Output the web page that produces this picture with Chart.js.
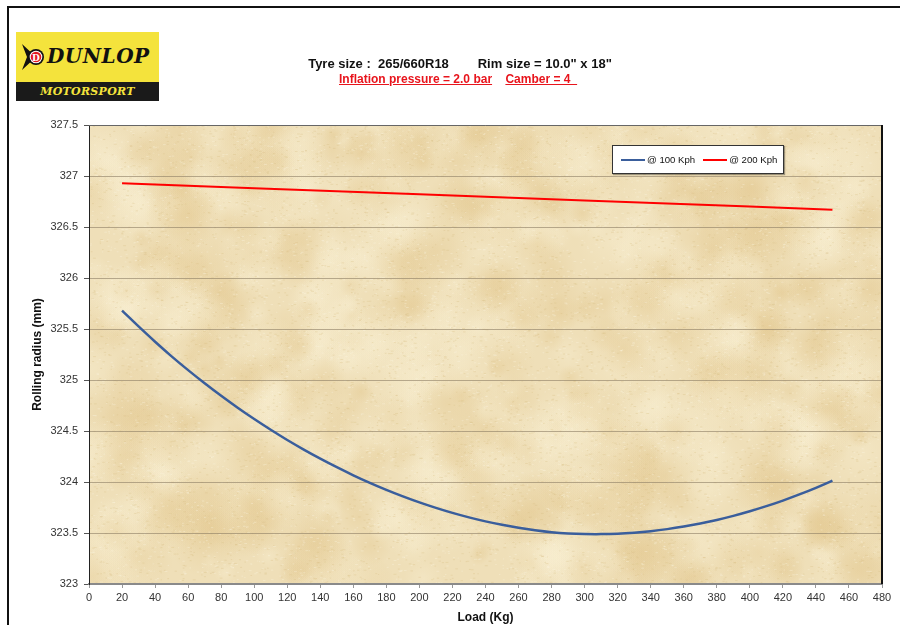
<!DOCTYPE html>
<html>
<head>
<meta charset="utf-8">
<script src="https://cdn.jsdelivr.net/npm/chart.js@4.4.0/dist/chart.umd.min.js"></script>
<style>
  body { margin: 0; background: #fff; font-family: "Liberation Sans", Arial, sans-serif; }
  #wrap { position: relative; width: 900px; height: 625px; overflow: hidden; }
  #frame { position: absolute; left: 7px; top: 6px; width: 900px; height: 700px; border-left: 2px solid #111; border-top: 2px solid #111; }
  #grafico { position: absolute; left: 0; top: 0; }
  #logo { position: absolute; left: 16px; top: 32px; width: 143px; height: 69px; background: #f4e33c; }
  #logo .band { position: absolute; left: 0; bottom: 0; width: 143px; height: 19px; background: #1a1a1a;
    color: #f4e33c; font: italic bold 11px "DejaVu Serif", serif; text-align: center; line-height: 19px; letter-spacing: 0.3px; }
  #logo .marca { position: absolute; left: 31px; top: 12px; font: italic bold 20px "DejaVu Serif", serif; color: #111; letter-spacing: 0.5px; }
  #logo svg { position: absolute; left: 3px; top: 11px; }
  #titulo { position: absolute; left: 0; top: 56px; width: 920px; text-align: center; font-weight: bold; font-size: 13px; color: #111; white-space: pre; }
  #subtitulo { position: absolute; left: 339px; top: 72px; font-weight: bold; font-size: 12px; color: #e8141c; white-space: pre; }
  #subtitulo span { text-decoration: underline; }
  #leyenda { position: absolute; left: 612px; top: 145px; width: 170px; height: 27px; background: #fff; border: 1px solid #333;
    box-shadow: 1px 1px 1px rgba(0,0,0,0.35); font-size: 9.6px; color: #111; display: flex; align-items: center; }
  #leyenda .item { display: flex; align-items: center; margin-left: 8px; }
  #leyenda .linea { width: 24px; height: 2px; margin-right: 2px; }
</style>
</head>
<body>
<div id="wrap">
  <div id="frame"></div>
  <canvas id="grafico" width="900" height="625"></canvas>
  <div id="logo">
    <svg width="28" height="28" viewBox="0 0 28 28">
      <path d="M3 1 L17 14 L3 27 L8 14 Z" fill="#111"/>
      <circle cx="17" cy="14" r="8" fill="#111"/>
      <circle cx="17" cy="14" r="6.3" fill="#fff"/>
      <circle cx="17" cy="14" r="5.3" fill="#e21b23"/>
      <text x="17" y="17.5" font-size="9" font-weight="bold" fill="#fff" text-anchor="middle" font-family="DejaVu Serif">D</text>
    </svg>
    <div class="marca">DUNLOP</div>
    <div class="band">MOTORSPORT</div>
  </div>
  <div id="titulo">Tyre size :  265/660R18        Rim size = 10.0" x 18"</div>
  <div id="subtitulo"><span>Inflation pressure = 2.0 bar</span>    <span>Camber = 4  </span></div>
  <div id="leyenda"></div>
</div>
<script>
// Carga (Kg) y radio de rodadura (mm)
const cargas100 = [20, 30, 40, 50, 60, 70, 80, 90, 100, 110, 120, 130, 140, 150, 160, 170, 180, 190, 200, 210,
  220, 230, 240, 250, 260, 270, 280, 290, 300, 310, 320, 330, 340, 350, 360, 370, 380, 390, 400, 410, 420, 430, 440, 450];
const radio100 = [325.680, 325.525, 325.375, 325.232, 325.097, 324.968, 324.845, 324.728, 324.617, 324.512,
  324.412, 324.318, 324.229, 324.145, 324.066, 323.992, 323.923, 323.859, 323.800, 323.746, 323.697, 323.653,
  323.614, 323.580, 323.551, 323.527, 323.508, 323.496, 323.490, 323.489, 323.493, 323.503, 323.518, 323.538,
  323.563, 323.593, 323.628, 323.668, 323.713, 323.763, 323.818, 323.878, 323.943, 324.013];
const cargas200 = [20, 100, 200, 300, 400, 450];
const radio200 = [326.93, 326.88, 326.82, 326.76, 326.70, 326.67];
const etiquetas = ['@ 100 Kph', '@ 200 Kph'];
const colores = ['#3a5e9c', '#ff0000'];

function puntos(xs, ys) {
  return xs.map((x, i) => ({ x: x, y: ys[i] }));
}

// textura tipo pergamino para el fondo del area de trazado
let textura = null;
function crearTextura(w, h) {
  const c = document.createElement('canvas');
  c.width = w; c.height = h;
  const g = c.getContext('2d');
  g.fillStyle = '#efdfb8';
  g.fillRect(0, 0, w, h);
  let s = 12345;
  const rnd = () => { s = (s * 16807) % 2147483647; return s / 2147483647; };
  for (let i = 0; i < 700; i++) {
    const x = rnd() * w, y = rnd() * h, r = 10 + rnd() * 30;
    const col = rnd() < 0.5 ? '226,198,140' : '249,240,212';
    const grad = g.createRadialGradient(x, y, 0, x, y, r);
    grad.addColorStop(0, 'rgba(' + col + ',0.35)');
    grad.addColorStop(1, 'rgba(' + col + ',0)');
    g.fillStyle = grad;
    g.fillRect(x - r, y - r, 2 * r, 2 * r);
  }
  for (let i = 0; i < 12000; i++) {
    const x = rnd() * w, y = rnd() * h;
    g.fillStyle = rnd() < 0.5 ? 'rgba(215,188,130,0.3)' : 'rgba(252,246,226,0.35)';
    g.fillRect(x, y, 1 + rnd() * 2, 1);
  }
  return c;
}

const fondo = {
  id: 'fondo',
  beforeDraw(chart) {
    const a = chart.chartArea, ctx = chart.ctx;
    if (!textura) textura = crearTextura(Math.ceil(a.right - a.left), Math.ceil(a.bottom - a.top));
    ctx.drawImage(textura, a.left, a.top);
  },
  afterDatasetsDraw(chart) {
    const a = chart.chartArea, ctx = chart.ctx;
    ctx.save();
    ctx.strokeStyle = '#666';
    ctx.lineWidth = 1;
    ctx.beginPath();
    ctx.moveTo(a.left, a.top + 0.5);
    ctx.lineTo(a.right, a.top + 0.5);
    ctx.stroke();
    ctx.strokeStyle = '#111';
    ctx.lineWidth = 2;
    ctx.beginPath();
    ctx.moveTo(a.right, a.top);
    ctx.lineTo(a.right, a.bottom);
    ctx.stroke();
    ctx.restore();
  }
};

const fuente = { family: '"Liberation Sans", Arial, sans-serif', size: 11 };

const miGrafico = new Chart(document.getElementById('grafico').getContext('2d'), {
  type: 'line',
  data: {
    datasets: [
      { label: etiquetas[0], data: puntos(cargas100, radio100), borderColor: colores[0], borderWidth: 2.5,
        pointRadius: 0, tension: 0.4 },
      { label: etiquetas[1], data: puntos(cargas200, radio200), borderColor: colores[1], borderWidth: 2,
        pointRadius: 0, tension: 0 }
    ]
  },
  options: {
    responsive: false,
    animation: false,
    layout: { padding: { left: 26, right: 18, top: 125, bottom: 0 } },
    plugins: { legend: { display: false }, tooltip: { enabled: false } },
    scales: {
      x: {
        type: 'linear', min: 0, max: 480,
        afterFit(scale) { scale.height = 41; },
        ticks: { stepSize: 20, color: '#333', font: fuente, padding: 3, maxRotation: 0 },
        grid: { drawOnChartArea: false, tickLength: 4, tickColor: '#999' },
        border: { color: '#8a8a8a', width: 2 },
        title: { display: true, text: 'Load (Kg)', color: '#111', padding: { top: 0, bottom: 0 },
          font: { family: fuente.family, size: 12, weight: 'bold' } }
      },
      y: {
        min: 323, max: 327.5,
        afterFit(scale) { scale.width = 63; },
        ticks: { stepSize: 0.5, color: '#333', font: fuente, padding: 6,
          callback: v => String(+v.toFixed(1)) },
        grid: { color: 'rgba(140,125,100,0.6)', lineWidth: 1, tickLength: 5, tickColor: '#555' },
        border: { color: '#222', width: 1 },
        title: { display: true, text: 'Rolling radius (mm)', color: '#111', padding: { top: 4, bottom: 0 },
          font: { family: fuente.family, size: 12, weight: 'bold' } }
      }
    }
  },
  plugins: [fondo]
});

// leyenda en HTML a partir de los datasets
const leyenda = document.getElementById('leyenda');
miGrafico.data.datasets.forEach(ds => {
  const it = document.createElement('div');
  it.className = 'item';
  const l = document.createElement('div');
  l.className = 'linea';
  l.style.background = ds.borderColor;
  const t = document.createElement('span');
  t.textContent = ds.label;
  it.appendChild(l);
  it.appendChild(t);
  leyenda.appendChild(it);
});
</script>
</body>
</html>
